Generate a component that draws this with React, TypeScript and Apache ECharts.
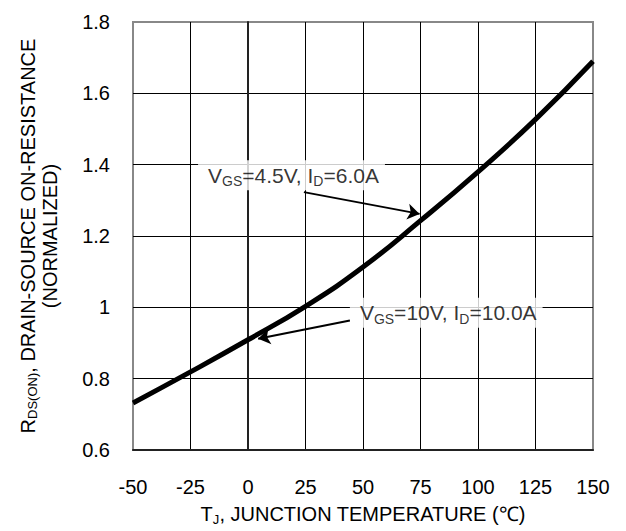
import React, { useEffect, useRef } from "react";
import * as echarts from "echarts";

const temps = [-50, -25, 0, 25, 50, 75, 100, 125, 150];
const rdsOn = [0.732, 0.819, 0.909, 1.003, 1.113, 1.243, 1.38, 1.527, 1.69];

const label1 = "{m|V}{s|GS}{m|=4.5V, I}{s|D}{m|=6.0A}";
const label2 = "{m|V}{s|GS}{m|=10V, I}{s|D}{m|=10.0A}";
const label1Anchor = [-21.7, 1.37];
const label2Anchor = [44.3, 0.985];
const arrow1 = [[24.3, 1.323], [74.6, 1.262]];
const arrow2 = [[44.3, 0.963], [4.4, 0.912]];

const FONT = 'Arial, "Liberation Sans", sans-serif';

export default function App() {
  const ref = useRef<HTMLDivElement>(null);
  useEffect(() => {
    if (!ref.current) return;
    const chart = echarts.init(ref.current, null, { renderer: "svg" });
    const richAnno = {
      m: { fontSize: 21, fontFamily: FONT, color: "#000", lineHeight: 26, verticalAlign: "middle" },
      s: { fontSize: 14, fontFamily: FONT, color: "#000", lineHeight: 12, verticalAlign: "bottom" },
    };
    chart.setOption({
      animation: false,
      backgroundColor: "#fff",
      grid: {
        left: 133,
        right: 33,
        top: 22,
        bottom: 73,
        show: true,
        borderColor: "#888",
        borderWidth: 2,
        backgroundColor: "transparent",
      },
      xAxis: {
        type: "value",
        min: -50,
        max: 150,
        interval: 25,
        axisLine: { show: true, lineStyle: { color: "#222", width: 2 } },
        axisTick: { show: false },
        splitLine: { show: true, showMinLine: false, showMaxLine: false, lineStyle: { color: "#000", width: 1 } },
        axisLabel: { fontSize: 20, fontFamily: FONT, color: "#000", margin: 27 },
        name: "{m|T}{s|J}{m|, JUNCTION TEMPERATURE (℃)}",
        nameLocation: "middle",
        nameGap: 52,
        nameTextStyle: {
          rich: {
            m: { fontSize: 20, fontFamily: FONT, color: "#000", lineHeight: 24, verticalAlign: "middle" },
            s: { fontSize: 13, fontFamily: FONT, color: "#000", lineHeight: 12, verticalAlign: "bottom" },
          },
        },
      },
      yAxis: {
        type: "value",
        min: 0.6,
        max: 1.8,
        interval: 0.2,
        axisLine: { show: true, lineStyle: { color: "#222", width: 2 } },
        axisTick: { show: false },
        splitLine: { show: true, showMinLine: false, showMaxLine: false, lineStyle: { color: "#000", width: 1 } },
        axisLabel: {
          fontSize: 20,
          fontFamily: FONT,
          color: "#000",
          margin: 23,
          formatter: (v: number) => String(Math.round(v * 10) / 10),
        },
        name: "{m|R}{s|DS(ON)}{m|, DRAIN-SOURCE ON-RESISTANCE}\n{m|(NORMALIZED)}",
        nameLocation: "middle",
        nameRotate: 90,
        nameGap: 72,
        nameTextStyle: {
          align: "center",
          rich: {
            m: { fontSize: 20, fontFamily: FONT, color: "#000", lineHeight: 22, verticalAlign: "middle" },
            s: { fontSize: 13, fontFamily: FONT, color: "#000", lineHeight: 12, verticalAlign: "bottom" },
          },
        },
      },
      series: [
        {
          type: "line",
          data: temps.map((t, i) => [t, rdsOn[i]]),
          smooth: true,
          symbol: "none",
          lineStyle: { color: "#000", width: 5 },
          z: 3,
        },
        {
          type: "scatter",
          symbolSize: 0,
          z: 4,
          silent: true,
          data: [
            { value: label1Anchor, name: label1 },
            { value: label2Anchor, name: label2 },
          ],
          label: {
            show: true,
            position: "right",
            distance: 0,
            formatter: (p: any) => p.name,
            backgroundColor: "#fff",
            padding: [2, 6, 2, 10],
            rich: richAnno,
          },
          markLine: {
            silent: true,
            symbol: ["none", "arrow"],
            symbolSize: 12,
            label: { show: false },
            emphasis: { disabled: true },
            itemStyle: { color: "#000" },
            lineStyle: { color: "#000", width: 2, type: "solid" },
            data: [
              [{ coord: arrow1[0] }, { coord: arrow1[1] }],
              [{ coord: arrow2[0] }, { coord: arrow2[1] }],
            ],
          },
        },
      ],
    });
    return () => chart.dispose();
  }, []);
  return (
    <div
      ref={ref}
      style={{ position: "fixed", left: 0, top: 0, width: 626, height: 531, background: "#fff" }}
    />
  );
}
